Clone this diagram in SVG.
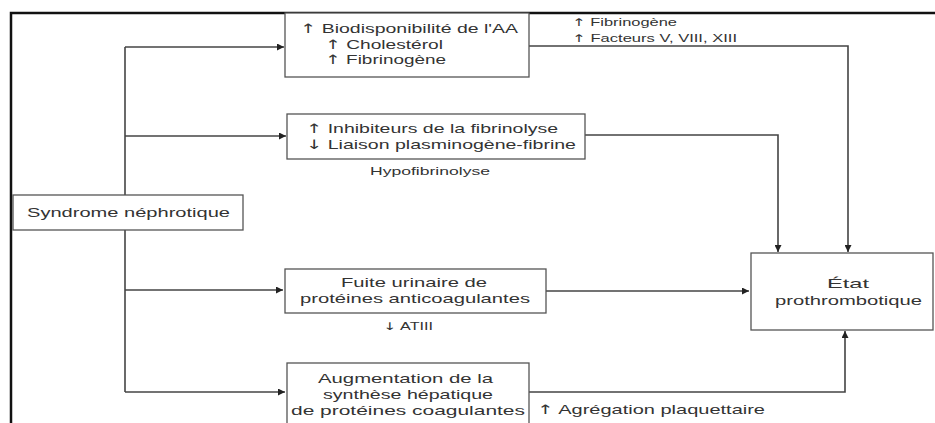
<svg xmlns="http://www.w3.org/2000/svg" width="935" height="423" viewBox="0 0 935 423">
<defs>
<marker id="ah" viewBox="0 0 10 10" refX="10" refY="5" markerWidth="9" markerHeight="7" markerUnits="userSpaceOnUse" orient="auto">
<path d="M0,0 L10,5 L0,10 z" fill="#222"/>
</marker>
<style>
.box{fill:#fff;stroke:#555;stroke-width:1.3}
.con{fill:none;stroke:#444;stroke-width:1.6}
.t{font-family:"Liberation Sans",Arial,sans-serif;font-size:13px;fill:#333}
.s{font-family:"Liberation Sans",Arial,sans-serif;font-size:10.5px;fill:#333}
.a{font-family:"DejaVu Sans",sans-serif}
</style>
</defs>
<rect width="935" height="423" fill="#fff"/>
<path d="M11,423 V13 H935" fill="none" stroke="#111" stroke-width="2.5"/>
<g id="connectors">
<path class="con" d="M125,47 V392"/>
<path class="con" d="M125,47 H284" marker-end="url(#ah)"/>
<path class="con" d="M125,136 H286" marker-end="url(#ah)"/>
<path class="con" d="M125,290 H283" marker-end="url(#ah)"/>
<path class="con" d="M125,392 H285" marker-end="url(#ah)"/>
<path class="con" d="M529,46 H848 V252" marker-end="url(#ah)"/>
<path class="con" d="M585,135 H778 V252" marker-end="url(#ah)"/>
<path class="con" d="M546,291 H749" marker-end="url(#ah)"/>
<path class="con" d="M529,392 H845 V331" marker-end="url(#ah)"/>
</g>
<g id="syndrome">
<rect class="box" x="13" y="195" width="230" height="35"/>
<text class="t" x="27" y="217" textLength="203" lengthAdjust="spacingAndGlyphs">Syndrome néphrotique</text>
</g>
<g id="biodisponibilite">
<rect class="box" x="285" y="13" width="244" height="64"/>
<text class="t" x="300" y="33" textLength="218" lengthAdjust="spacingAndGlyphs"><tspan class="a">↑</tspan> Biodisponibilité de l'AA</text>
<text class="t" x="325" y="49" textLength="118" lengthAdjust="spacingAndGlyphs"><tspan class="a">↑</tspan> Cholestérol</text>
<text class="t" x="325" y="64" textLength="121" lengthAdjust="spacingAndGlyphs"><tspan class="a">↑</tspan> Fibrinogène</text>
</g>
<g id="facteurs-label">
<text class="s" x="572" y="26" textLength="105" lengthAdjust="spacingAndGlyphs"><tspan class="a">↑</tspan> Fibrinogène</text>
<text class="s" x="572" y="42" textLength="165" lengthAdjust="spacingAndGlyphs"><tspan class="a">↑</tspan> Facteurs V, VIII, XIII</text>
</g>
<g id="inhibiteurs">
<rect class="box" x="287" y="114" width="298" height="45"/>
<text class="t" x="306" y="133" textLength="252" lengthAdjust="spacingAndGlyphs"><tspan class="a">↑</tspan> Inhibiteurs de la fibrinolyse</text>
<text class="t" x="306" y="149" textLength="270" lengthAdjust="spacingAndGlyphs"><tspan class="a">↓</tspan> Liaison plasminogène-fibrine</text>
</g>
<g id="hypofibrinolyse-label">
<text class="s" x="370" y="175" textLength="120" lengthAdjust="spacingAndGlyphs">Hypofibrinolyse</text>
</g>
<g id="fuite">
<rect class="box" x="285" y="269" width="261" height="44"/>
<text class="t" x="341" y="287" textLength="146" lengthAdjust="spacingAndGlyphs">Fuite urinaire de</text>
<text class="t" x="300" y="303" textLength="230" lengthAdjust="spacingAndGlyphs">protéines anticoagulantes</text>
</g>
<g id="atiii-label">
<text class="s" x="383" y="330" textLength="50" lengthAdjust="spacingAndGlyphs"><tspan class="a">↓</tspan> ATIII</text>
</g>
<g id="augmentation">
<rect class="box" x="287" y="363" width="242" height="75"/>
<text class="t" x="318" y="383" textLength="175" lengthAdjust="spacingAndGlyphs">Augmentation de la</text>
<text class="t" x="323" y="399" textLength="170" lengthAdjust="spacingAndGlyphs">synthèse hépatique</text>
<text class="t" x="291" y="415" textLength="234" lengthAdjust="spacingAndGlyphs">de protéines coagulantes</text>
</g>
<g id="agregation-label">
<text class="t" x="537" y="414" textLength="228" lengthAdjust="spacingAndGlyphs"><tspan class="a">↑</tspan> Agrégation plaquettaire</text>
</g>
<g id="etat">
<rect class="box" x="751" y="253" width="182" height="77"/>
<text class="t" x="827" y="288" textLength="42" lengthAdjust="spacingAndGlyphs">État</text>
<text class="t" x="775" y="305" textLength="147" lengthAdjust="spacingAndGlyphs">prothrombotique</text>
</g>
</svg>
